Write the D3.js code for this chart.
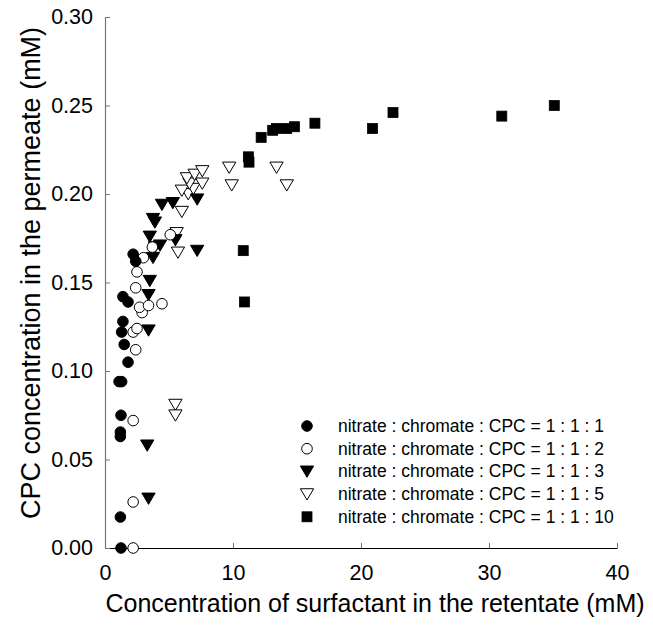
<!DOCTYPE html>
<html lang="en">
<head>
  <meta charset="UTF-8" />
  <title>CPC concentration in the permeate</title>
  <script src="https://d3js.org/d3.v7.min.js"></script>
  <style>
    body {
      margin: 0;
      background: #fff;
      overflow: hidden;
      font-family: "Liberation Sans", Arial, sans-serif;
    }
    svg {
      display: block;
    }
    .legend text {
      font-size: 17.5px;
    }
  </style>
</head>
<body>
  <div id="chart"></div>
  <script>
    const width = 653, height = 629, margin = {top: 17, right: 36, bottom: 81, left: 105};
    const innerWidth = width - margin.left - margin.right;
    const innerHeight = height - margin.top - margin.bottom;
    const fontFamily = "'Liberation Sans', Arial, sans-serif";

    // series labels
    const seriesNames = [
      "nitrate : chromate : CPC = 1 : 1 : 1",
      "nitrate : chromate : CPC = 1 : 1 : 2",
      "nitrate : chromate : CPC = 1 : 1 : 3",
      "nitrate : chromate : CPC = 1 : 1 : 5",
      "nitrate : chromate : CPC = 1 : 1 : 10"
    ];

    // 1:1:1 filled circles
    const s1x = [1.25, 1.2, 1.2, 1.2, 1.25, 1.3, 1.1, 1.8, 1.5, 1.3, 1.4, 1.4, 1.8, 2.2, 2.4];
    const s1y = [0.000, 0.0175, 0.0655, 0.063, 0.075, 0.094, 0.094, 0.105, 0.115, 0.122, 0.128, 0.142, 0.139, 0.166, 0.162];

    // 1:1:2 open circles
    const s2x = [2.2, 2.2, 2.2, 2.4, 2.2, 2.5, 2.9, 2.7, 3.4, 4.45, 2.4, 2.5, 3.0, 3.7, 5.1];
    const s2y = [0.000, 0.026, 0.072, 0.112, 0.122, 0.124, 0.133, 0.136, 0.137, 0.138, 0.147, 0.156, 0.164, 0.170, 0.177];

    // 1:1:3 filled down triangles
    const s3x = [3.4, 3.3, 3.4, 3.4, 3.5, 3.75, 3.9, 4.3, 5.5, 3.5, 3.9, 3.75, 4.45, 5.3, 7.2, 7.2];
    const s3y = [0.028, 0.058, 0.123, 0.143, 0.151, 0.164, 0.170, 0.171, 0.174, 0.176, 0.184, 0.186, 0.194, 0.195, 0.197, 0.168];

    // 1:1:5 open down triangles
    const s4x = [5.5, 5.5, 5.7, 5.6, 6.0, 6.5, 6.0, 6.9, 6.6, 7.6, 6.4, 7.0, 7.6, 9.7, 9.9, 13.4, 14.2];
    const s4y = [0.081, 0.075, 0.167, 0.178, 0.190, 0.200, 0.202, 0.203, 0.206, 0.206, 0.209, 0.211, 0.213, 0.215, 0.205, 0.215, 0.205];

    // 1:1:10 filled squares
    const s5x = [10.9, 10.8, 11.2, 11.25, 12.2, 13.1, 13.4, 14.2, 14.8, 16.4, 20.9, 22.5, 31.0, 35.1];
    const s5y = [0.139, 0.168, 0.221, 0.218, 0.232, 0.236, 0.237, 0.237, 0.238, 0.240, 0.237, 0.246, 0.244, 0.250];

    const xTicks = [0, 10, 20, 30, 40];
    const yTicks = [0, 0.05, 0.10, 0.15, 0.20, 0.25, 0.30];

    const svg = d3.select("#chart").append("svg")
      .attr("width", width)
      .attr("height", height);
    const g = svg.append("g").attr("transform", `translate(${margin.left},${margin.top})`);

    const x = d3.scaleLinear().domain([0, 40]).range([0, innerWidth]);
    const y = d3.scaleLinear().domain([0, 0.30]).range([innerHeight, 0]);

    // axes, ticks pointing inward
    const xAxis = g.append("g")
      .attr("transform", `translate(0,${innerHeight})`)
      .call(d3.axisBottom(x).tickValues(xTicks).tickSizeInner(-5).tickSizeOuter(0).tickPadding(17))
      .attr("font-size", 21.5)
      .attr("font-family", fontFamily);
    xAxis.select(".domain").attr("stroke", "#000").attr("stroke-width", 1.2);
    xAxis.selectAll(".tick line").attr("stroke", "#777");
    xAxis.selectAll(".tick text").attr("fill", "#000");

    const yAxis = g.append("g")
      .call(d3.axisLeft(y).tickValues(yTicks).tickFormat(d3.format(".2f")).tickSizeInner(-5).tickSizeOuter(0).tickPadding(12))
      .attr("font-size", 21.5)
      .attr("font-family", fontFamily);
    yAxis.select(".domain").attr("stroke", "#777").attr("stroke-width", 1.2);
    yAxis.selectAll(".tick line").attr("stroke", "#777");
    yAxis.selectAll(".tick text").attr("fill", "#000");

    // axis labels
    svg.append("text")
      .attr("x", 375)
      .attr("y", 612)
      .attr("text-anchor", "middle")
      .style("font-size", "25px")
      .text("Concentration of surfactant in the retentate (mM)");

    svg.append("text")
      .attr("transform", "translate(40,273) rotate(-90)")
      .attr("text-anchor", "middle")
      .style("font-size", "27px")
      .text("CPC concentration in the permeate (mM)");

    // markers
    const triDown = d3.symbol().type({
      draw(ctx, size) {
        const h = Math.sqrt(size);
        ctx.moveTo(-h * 0.62, -h * 0.5);
        ctx.lineTo(h * 0.62, -h * 0.5);
        ctx.lineTo(0, h * 0.55);
        ctx.closePath();
      }
    }).size(115);

    const styles = [
      {shape: "circle", fill: "#000"},
      {shape: "circle", fill: "#fff"},
      {shape: "tri", fill: "#000"},
      {shape: "tri", fill: "#fff"},
      {shape: "square", fill: "#000"}
    ];

    function drawMarker(sel, st) {
      if (st.shape === "circle") {
        sel.append("circle").attr("r", 5.3)
          .attr("fill", st.fill).attr("stroke", "#000").attr("stroke-width", 1);
      } else if (st.shape === "tri") {
        sel.append("path").attr("d", triDown)
          .attr("fill", st.fill).attr("stroke", "#000").attr("stroke-width", 1);
      } else {
        sel.append("rect").attr("x", -5).attr("y", -5).attr("width", 10).attr("height", 10)
          .attr("fill", st.fill).attr("stroke", "#000").attr("stroke-width", 0.8);
      }
    }

    const allSeries = [[s1x, s1y], [s2x, s2y], [s3x, s3y], [s4x, s4y], [s5x, s5y]];
    // draw later series first so the early ones sit on top near the axis
    [4, 3, 2, 1, 0].forEach(i => {
      const [xs, ys] = allSeries[i];
      xs.forEach((xv, j) => {
        const m = g.append("g").attr("transform", `translate(${x(xv)},${y(ys[j])})`);
        drawMarker(m, styles[i]);
      });
    });

    // legend
    const legend = svg.append("g").attr("class", "legend");
    seriesNames.forEach((name, i) => {
      const row = legend.append("g").attr("transform", `translate(307,${426 + i * 22.7})`);
      drawMarker(row, styles[i]);
      row.append("text")
        .attr("x", 31)
        .attr("y", 6)
        .text(name);
    });
  </script>
</body>
</html>
